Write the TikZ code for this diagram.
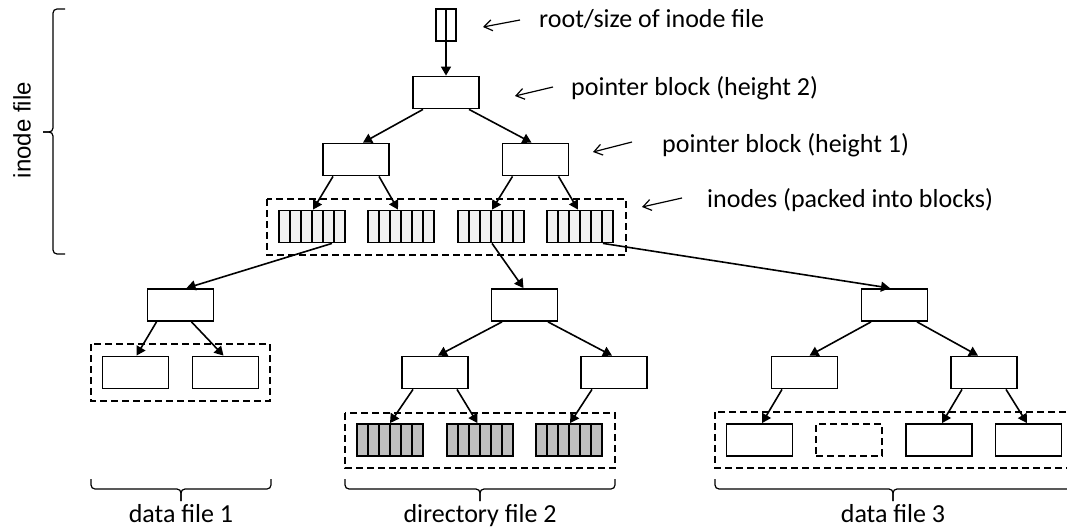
\documentclass[tikz,border=0pt]{standalone}
\usepackage{fontspec}
\setmainfont{Carlito}
\newfontfamily\arialfont{Liberation Sans}
\usetikzlibrary{arrows.meta,calc}
\begin{document}
\begin{tikzpicture}[x=1pt,y=-1pt,
  box/.style={draw, line width=1.8pt, minimum width=66pt, minimum height=32pt, inner sep=0pt},
  dbox/.style={box, line width=1.5pt, dash pattern=on 7pt off 4pt},
  cellblk/.style={box, fill=#1, path picture={
      \foreach \k in {1,...,5}{
        \draw[line width=1.3pt]
          ($(path picture bounding box.north west)!\k/6!(path picture bounding box.north east)$) --
          ($(path picture bounding box.south west)!\k/6!(path picture bounding box.south east)$);}}},
  group/.style={draw, line width=1.6pt, dash pattern=on 7pt off 4pt},
  arr/.style={line width=1.6pt, -{Triangle[length=9pt,width=10pt]}},
  ann/.style={line width=1.2pt, -{Straight Barb[length=8pt,width=11pt]}},
  lbl/.style={font=\fontsize{26}{30}\selectfont, inner sep=0pt},
  brc/.style={line width=1.2pt, rounded corners=4pt},
]
\clip (0,0) rectangle (1067,529);

% inode file tree
\node[draw, line width=1.6pt, minimum width=20pt, minimum height=32pt, inner sep=0pt,
      path picture={\draw[line width=1.3pt] (path picture bounding box.north) -- (path picture bounding box.south);}]
      (root) at (446,25) {};
\node[box] (p2) at (446,92.5) {};
\node[box] (p1L) at (356,159.5) {};
\node[box] (p1R) at (535.5,159.5) {};
\node[cellblk=gray!10] (i1) at (312,226.5) {};
\node[cellblk=gray!10] (i2) at (401,226.5) {};
\node[cellblk=gray!10] (i3) at (491,226.5) {};
\node[cellblk=gray!10] (i4) at (580,226.5) {};
\draw[group] (267,199) rectangle (626,255);

\draw[arr] (root.south) -- (p2.north);
\draw[arr] ([xshift=-23pt]p2.south) -- ([xshift=7pt]p1L.north);
\draw[arr] ([xshift=23pt]p2.south) -- ([xshift=-4pt]p1R.north);
\draw[arr] ([xshift=-23pt]p1L.south) -- ([xshift=1pt]i1.north);
\draw[arr] ([xshift=23pt]p1L.south) -- ([xshift=-3pt]i2.north);
\draw[arr] ([xshift=-23pt]p1R.south) -- ([xshift=1pt]i3.north);
\draw[arr] ([xshift=23pt]p1R.south) -- ([xshift=-2pt]i4.north);

% data file 1
\node[box] (d1) at (180.5,305) {};
\node[box] (d1a) at (135.5,372.5) {};
\node[box] (d1b) at (225.5,372.5) {};
\draw[group] (91,344) rectangle (270,401);
\draw[arr] ([xshift=20pt]i1.south) -- ([xshift=6pt]d1.north);
\draw[arr] ([xshift=-24pt]d1.south) -- ([xshift=1pt]d1a.north);
\draw[arr] ([xshift=11pt]d1.south) -- ([xshift=-2pt]d1b.north);

% directory file 2
\node[box] (r2) at (524.5,305) {};
\node[box] (r2a) at (435,372.5) {};
\node[box] (r2b) at (614,372.5) {};
\node[cellblk=gray!50] (g1) at (390,440) {};
\node[cellblk=gray!50] (g2) at (480,440) {};
\node[cellblk=gray!50] (g3) at (569,440) {};
\draw[group] (345,413) rectangle (615,468);
\draw[arr] ([xshift=1pt]i3.south) -- ([xshift=-1pt]r2.north);
\draw[arr] ([xshift=-22.5pt]r2.south) -- ([xshift=3pt]r2a.north);
\draw[arr] ([xshift=23.5pt]r2.south) -- ([xshift=-2pt]r2b.north);
\draw[arr] ([xshift=-22pt]r2a.south) -- (g1.north);
\draw[arr] ([xshift=22pt]r2a.south) -- ([xshift=-2.5pt]g2.north);
\draw[arr] ([xshift=-22pt]r2b.south) -- ([xshift=1pt]g3.north);

% data file 3
\node[box] (r3) at (894.5,305) {};
\node[box] (r3a) at (804.5,372.5) {};
\node[box] (r3b) at (984,372.5) {};
\node[box] (e1) at (759.5,440) {};
\node[dbox] (e2) at (849,440) {};
\node[box] (e3) at (939,440) {};
\node[box] (e4) at (1028.5,440) {};
\draw[group] (715,412) rectangle (1071,468);
\draw[arr] ([xshift=23pt]i4.south) -- ([xshift=-4.5pt]r3.north);
\draw[arr] ([xshift=-23.5pt]r3.south) -- ([xshift=5pt]r3a.north);
\draw[arr] ([xshift=22.5pt]r3.south) -- ([xshift=-6pt]r3b.north);
\draw[arr] ([xshift=-22.5pt]r3a.south) -- ([xshift=2.5pt]e1.north);
\draw[arr] ([xshift=-22pt]r3b.south) -- ([xshift=3pt]e3.north);
\draw[arr] ([xshift=22pt]r3b.south) -- ([xshift=-1.5pt]e4.north);

% annotations
\node[lbl, anchor=base west] (lroot) at (539,28) {root/size of inode file};
\node[lbl, anchor=base west] (lp2) at (571,96) {pointer block (height 2)};
\node[lbl, anchor=base west] (lp1) at (662,153) {pointer block (height 1)};
\node[lbl, anchor=base west] (lin) at (707,208) {inodes (packed into blocks)};
\coordinate (a1s) at (520,20); \coordinate (a1e) at (483,27);
\coordinate (a2s) at (553,87); \coordinate (a2e) at (515,96);
\coordinate (a3s) at (632,142); \coordinate (a3e) at (593,152);
\coordinate (a4s) at (682,198); \coordinate (a4e) at (642,207);
\draw[ann] (a1s) -- (a1e);
\draw[ann] (a2s) -- (a2e);
\draw[ann] (a3s) -- (a3e);
\draw[ann] (a4s) -- (a4e);

% braces
\draw[brc] (65,9) -| (53,132) -- (43,132);
\draw[brc] (65,254) -| (53,132) -- (43,132);
\node[rotate=90, inner sep=0pt, font=\arialfont\fontsize{24}{28}\selectfont] (lif) at (22,130) {inode file};

\draw[brc] (91,479) |- (181,489) -- (181,501);
\draw[brc] (271,479) |- (181,489) -- (181,501);
\node[lbl, anchor=base] (ld1) at (181,522) {data file 1};

\draw[brc] (345,479) |- (480,489) -- (480,501);
\draw[brc] (615,479) |- (480,489) -- (480,501);
\node[lbl, anchor=base] (ld2) at (480,522) {directory file 2};

\draw[brc] (715,479) |- (893,489) -- (893,501);
\draw[brc] (1071,479) |- (893,489) -- (893,501);
\node[lbl, anchor=base] (ld3) at (893,522) {data file 3};
\end{tikzpicture}
\end{document}
